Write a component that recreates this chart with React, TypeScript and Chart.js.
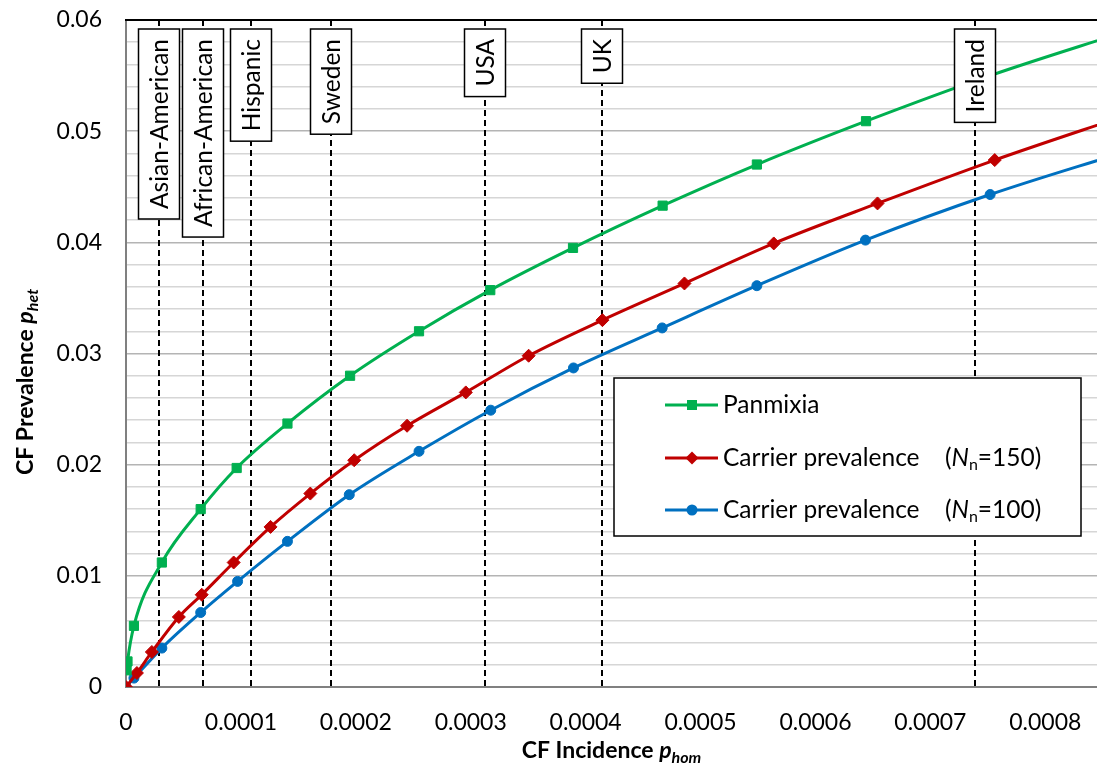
import React, { useEffect, useRef } from 'react';
import { Chart, registerables } from 'chart.js';

Chart.register(...registerables);

const FONT = 'Lato, "Open Sans", sans-serif';

// ---- data ----
const panmixiaX = [0.0000005, 0.0000013, 0.0000069, 0.0000312, 0.000065, 0.0000963, 0.0001405, 0.000195, 0.000255, 0.000317, 0.000389, 0.000467, 0.000549, 0.000644, 0.000752, 0.000868];
const panmixiaY = [0.0015, 0.0023, 0.0055, 0.0112, 0.016, 0.0197, 0.0237, 0.028, 0.032, 0.0357, 0.0395, 0.0433, 0.047, 0.0509, 0.055, 0.0589];

const carrier150X = [0, 0.0000095, 0.0000225, 0.000046, 0.0000659, 0.0000937, 0.0001258, 0.0001604, 0.0001986, 0.0002446, 0.0002957, 0.0003504, 0.0004146, 0.000486, 0.0005637, 0.000654, 0.000756, 0.00087];
const carrier150Y = [0, 0.00126, 0.00315, 0.0063, 0.0083, 0.0112, 0.0144, 0.0174, 0.0204, 0.0235, 0.0265, 0.0298, 0.033, 0.0363, 0.0399, 0.0435, 0.0474, 0.0514];

const carrier100X = [0, 0.0000069, 0.0000312, 0.000065, 0.0000971, 0.0001405, 0.0001943, 0.000255, 0.0003174, 0.0003894, 0.0004666, 0.000549, 0.0006435, 0.000752, 0.000868];
const carrier100Y = [0, 0.0008, 0.0035, 0.0067, 0.0095, 0.0131, 0.0173, 0.0212, 0.0249, 0.0287, 0.0323, 0.0361, 0.0402, 0.0443, 0.0481];

const countryNames = ['Asian-American', 'African-American', 'Hispanic', 'Sweden', 'USA', 'UK', 'Ireland'];
const countryIncidence = [0.0000286, 0.0000667, 0.0001087, 0.0001786, 0.0003125, 0.000414, 0.000739];

const seriesNames = ['Panmixia', 'Carrier prevalence', 'Carrier prevalence'];
const seriesNn = ['', '150', '100'];
const seriesColors = ['#00b050', '#c00000', '#0070c0'];
const seriesMarkers = ['rect', 'rectRot', 'circle'];

const xTickStep = 0.0001;
const xAxisMax = 0.000845;
const yTickStep = 0.002;
const yAxisMax = 0.06;

const xTitle = 'CF Incidence ';
const xTitleVar = 'p';
const xTitleSub = 'hom';
const yTitle = 'CF Prevalence ';
const yTitleVar = 'p';
const yTitleSub = 'het';

const toPoints = (xs: number[], ys: number[]) => xs.map((x, i) => ({ x, y: ys[i] }));

const isMajorY = (v: number) => Math.round(v * 1000) % 10 === 0;

function drawMarker(ctx: CanvasRenderingContext2D, style: string, x: number, y: number, color: string) {
  ctx.save();
  ctx.fillStyle = color;
  ctx.beginPath();
  if (style === 'rect') {
    ctx.rect(x - 5, y - 5, 10, 10);
  } else if (style === 'rectRot') {
    ctx.moveTo(x, y - 6.5);
    ctx.lineTo(x + 6.5, y);
    ctx.lineTo(x, y + 6.5);
    ctx.lineTo(x - 6.5, y);
    ctx.closePath();
  } else {
    ctx.arc(x, y, 5.5, 0, Math.PI * 2);
  }
  ctx.fill();
  ctx.restore();
}

function drawTitleWithSub(ctx: CanvasRenderingContext2D, main: string, v: string, sub: string, cx: number, cy: number) {
  const mainFont = `bold 23px ${FONT}`;
  const varFont = `italic bold 23px ${FONT}`;
  const subFont = `italic bold 16px ${FONT}`;
  ctx.font = mainFont;
  const w1 = ctx.measureText(main).width;
  ctx.font = varFont;
  const w2 = ctx.measureText(v).width;
  ctx.font = subFont;
  const w3 = ctx.measureText(sub).width;
  const total = w1 + w2 + w3;
  let x = cx - total / 2;
  ctx.textAlign = 'left';
  ctx.textBaseline = 'alphabetic';
  ctx.fillStyle = '#000';
  ctx.font = mainFont;
  ctx.fillText(main, x, cy);
  x += w1;
  ctx.font = varFont;
  ctx.fillText(v, x, cy);
  x += w2;
  ctx.font = subFont;
  ctx.fillText(sub, x, cy + 5);
}

const overlayPlugin = {
  id: 'overlayPlugin',
  beforeDatasetsDraw(chart: any) {
    const { ctx, chartArea, scales } = chart;
    ctx.save();
    ctx.strokeStyle = '#000';
    ctx.lineWidth = 2;
    ctx.setLineDash([6, 4]);
    countryIncidence.forEach((v) => {
      const x = Math.round(scales.x.getPixelForValue(v));
      ctx.beginPath();
      ctx.moveTo(x, chartArea.top);
      ctx.lineTo(x, chartArea.bottom);
      ctx.stroke();
    });
    ctx.restore();
  },
  afterDatasetsDraw(chart: any) {
    const { ctx, chartArea, scales } = chart;
    ctx.save();
    ctx.strokeStyle = '#000';
    ctx.lineWidth = 2;
    ctx.beginPath();
    ctx.moveTo(chartArea.left - 1, chartArea.top);
    ctx.lineTo(chartArea.right, chartArea.top);
    ctx.stroke();

    // country label boxes
    ctx.font = `24.5px ${FONT}`;
    countryNames.forEach((name, i) => {
      const cx = Math.round(scales.x.getPixelForValue(countryIncidence[i]));
      const tw = ctx.measureText(name).width;
      const bw = 41;
      const bh = tw + 20;
      const top = chartArea.top + 9;
      ctx.fillStyle = '#fff';
      ctx.fillRect(cx - bw / 2, top, bw, bh);
      ctx.strokeStyle = '#000';
      ctx.lineWidth = 1.5;
      ctx.strokeRect(cx - bw / 2, top, bw, bh);
      ctx.save();
      ctx.translate(cx + 1, top + bh / 2);
      ctx.rotate(-Math.PI / 2);
      ctx.fillStyle = '#000';
      ctx.textAlign = 'center';
      ctx.textBaseline = 'middle';
      ctx.fillText(name, 0, 0);
      ctx.restore();
    });

    // legend
    const lx = 614, ly = 378, lw = 467, lh = 158;
    ctx.fillStyle = '#fff';
    ctx.fillRect(lx, ly, lw, lh);
    ctx.strokeStyle = '#000';
    ctx.lineWidth = 1.5;
    ctx.strokeRect(lx, ly, lw, lh);
    const rows = [405, 458, 510];
    seriesNames.forEach((name, i) => {
      const y = rows[i];
      ctx.strokeStyle = seriesColors[i];
      ctx.lineWidth = 3;
      ctx.beginPath();
      ctx.moveTo(665, y);
      ctx.lineTo(718, y);
      ctx.stroke();
      drawMarker(ctx, seriesMarkers[i], 692, y, seriesColors[i]);
      ctx.fillStyle = '#000';
      ctx.textAlign = 'left';
      ctx.textBaseline = 'middle';
      ctx.font = `24.5px ${FONT}`;
      ctx.fillText(name, 723, y);
      if (seriesNn[i]) {
        let x = 945;
        ctx.fillText('(', x, y);
        x += ctx.measureText('(').width;
        ctx.font = `italic 24.5px ${FONT}`;
        ctx.fillText('N', x, y);
        x += ctx.measureText('N').width;
        ctx.font = `16px ${FONT}`;
        ctx.fillText('n', x, y + 7);
        x += ctx.measureText('n').width;
        ctx.font = `24.5px ${FONT}`;
        ctx.fillText('=' + seriesNn[i] + ')', x, y);
      }
    });

    // axis titles
    drawTitleWithSub(ctx, xTitle, xTitleVar, xTitleSub, (chartArea.left + chartArea.right) / 2, 758);
    ctx.save();
    ctx.translate(33, 382);
    ctx.rotate(-Math.PI / 2);
    drawTitleWithSub(ctx, yTitle, yTitleVar, yTitleSub, 0, 0);
    ctx.restore();

    ctx.restore();
  },
};

export default function App() {
  const canvasRef = useRef<HTMLCanvasElement | null>(null);

  useEffect(() => {
    if (!canvasRef.current) return;
    const mk = (label: string, xs: number[], ys: number[], i: number) => ({
      label,
      data: toPoints(xs, ys),
      borderColor: seriesColors[i],
      backgroundColor: seriesColors[i],
      pointBackgroundColor: seriesColors[i],
      pointBorderColor: seriesColors[i],
      pointBorderWidth: 1,
      pointStyle: seriesMarkers[i],
      pointRadius: i === 0 ? 6.5 : i === 1 ? 6.5 : 5,
      borderWidth: 3,
      cubicInterpolationMode: 'monotone',
      fill: false,
    });
    const chart = new Chart(canvasRef.current, {
      type: 'line',
      data: {
        datasets: [
          mk('Panmixia', panmixiaX, panmixiaY, 0),
          mk('Carrier prevalence (Nn=150)', carrier150X, carrier150Y, 1),
          mk('Carrier prevalence (Nn=100)', carrier100X, carrier100Y, 2),
        ] as any,
      },
      options: {
        animation: false,
        responsive: false,
        devicePixelRatio: 1,
        layout: { autoPadding: false, padding: { top: 20, left: 0, right: 0, bottom: 0 } },
        plugins: { legend: { display: false }, tooltip: { enabled: false }, title: { display: false } },
        scales: {
          x: {
            type: 'linear',
            min: 0,
            max: xAxisMax,
            grid: { color: 'rgba(0,0,0,0)', drawTicks: false },
            border: { color: '#808080', width: 2 },
            ticks: {
              stepSize: xTickStep,
              includeBounds: false,
              autoSkip: false,
              maxRotation: 0,
              padding: 22,
              color: '#000',
              font: { family: FONT, size: 23 },
              callback: (v: any) => (Math.abs(v) < 1e-12 ? '0' : Number(v).toFixed(4)),
            },
            afterFit: (s: any) => {
              s.height = 82;
              s.paddingLeft = 0;
              s.paddingRight = 0;
            },
          },
          y: {
            type: 'linear',
            min: 0,
            max: yAxisMax,
            grid: {
              drawTicks: false,
              color: (c: any) => (isMajorY(c.tick.value) ? '#b4b4b4' : '#d6d6d6'),
              lineWidth: 1.5,
            },
            border: { color: '#808080', width: 2 },
            ticks: {
              stepSize: yTickStep,
              includeBounds: false,
              autoSkip: false,
              padding: 24,
              color: '#000',
              font: { family: FONT, size: 23 },
              callback: (v: any) => {
                const r = Math.round(Number(v) * 1000);
                if (r % 10 !== 0) return '';
                return r === 0 ? '0' : String(r / 1000);
              },
            },
            afterFit: (s: any) => {
              s.width = 126;
              s.paddingTop = 0;
              s.paddingBottom = 0;
            },
          },
        },
      } as any,
      plugins: [overlayPlugin],
    });
    return () => chart.destroy();
  }, []);

  return (
    <div style={{ position: 'absolute', left: 0, top: 0, width: 1097, height: 769, background: '#fff' }}>
      <canvas ref={canvasRef} width={1097} height={769} style={{ display: 'block' }} />
    </div>
  );
}
